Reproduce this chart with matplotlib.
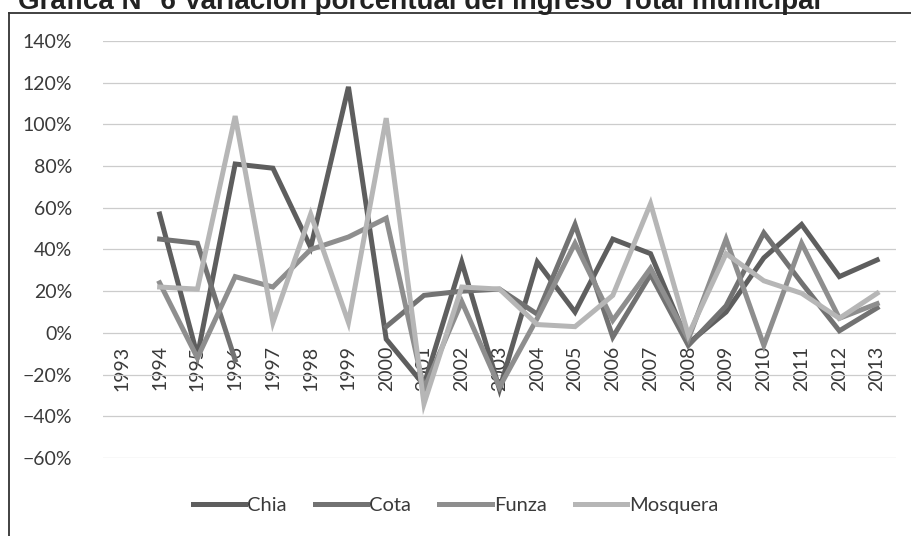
import numpy as np
import matplotlib
matplotlib.use('Agg')
import matplotlib.pyplot as plt
from matplotlib.lines import Line2D
from matplotlib.ticker import PercentFormatter

nan = np.nan

# Datos (variación % anual)
anios = [str(a) for a in range(1993, 2014)]
chia = [nan, 57, -11, 81, 79, 41, 118, -3, -25, 34, -27, 34, 10, 45, 38, -5, 10, 36, 52, 27, 35]
cota = [nan, 45, 43, -13, nan, nan, nan, 3, 18, 20, 21, 9, 52, -2, 28, -6, 13, 48, 24, 1, 12]
funza = [nan, 24, -12, 27, 22, 40, 46, 55, -27, 15, -26, 7, 43, 6, 31, -3, 45, -6, 43, 7, 14]
mosquera = [nan, 22, 21, 104, 5, 57, 5, 103, -34, 22, 21, 4, 3, 18, 62, -1, 38, 25, 19, 7, 19]

series = [('Chia', chia, '#5e5e5e'),
          ('Cota', cota, '#727272'),
          ('Funza', funza, '#8e8e8e'),
          ('Mosquera', mosquera, '#b6b6b6')]

plt.rcParams['font.family'] = ['Lato', 'DejaVu Sans']
texto = '#3a3a3a'

fig = plt.figure(figsize=(9.11, 5.36), dpi=100)
ax = fig.add_axes([103 / 911, 1 - 458 / 536, 793 / 911, 417 / 536])

x = np.arange(len(anios))
for nombre, valores, color in series:
    ax.plot(x, np.array(valores) / 100, color=color, lw=3.6, label=nombre,
            solid_joinstyle='miter')

ax.set_xlim(-0.5, len(anios) - 0.5)
ax.set_ylim(-0.6, 1.4)
ax.set_yticks(np.arange(-0.6, 1.41, 0.2))
ax.yaxis.set_major_formatter(PercentFormatter(1.0, decimals=0))
ax.grid(axis='y', color='#cccccc', lw=0.9)
ax.set_axisbelow(True)

# Eje de categorías sobre el 0%
ax.spines['bottom'].set_position(('data', 0))
for s in ax.spines.values():
    s.set_visible(False)
ax.set_xticks(x)
ax.set_xticklabels(anios, rotation=90, va='top', ha='center')
ax.tick_params(axis='x', length=0, pad=9, labelsize=14, colors=texto)
ax.tick_params(axis='y', length=0, pad=22, labelsize=14, colors=texto)

fig.legend(loc='center', bbox_to_anchor=(0.5, 1 - 505 / 536), ncol=4, frameon=False,
           fontsize=14.5, handlelength=2.6, handletextpad=0.1, columnspacing=1.4,
           labelcolor=texto)

# Título recortado por el escaneo y borde del recuadro
fig.text(18 / 911, 1 - 9 / 536, 'Gráfica N° 6 Variación porcentual del ingreso Total municipal',
         family='Liberation Sans', weight='bold', fontsize=20, va='baseline', ha='left',
         color='#222222')
fig.add_artist(Line2D([9 / 911, 9 / 911], [0, 1 - 13 / 536], color='#333333', lw=1.3))
fig.add_artist(Line2D([9 / 911, 1], [1 - 13 / 536, 1 - 13 / 536], color='#333333', lw=1.3))

fig.savefig('out.png', dpi=100)
